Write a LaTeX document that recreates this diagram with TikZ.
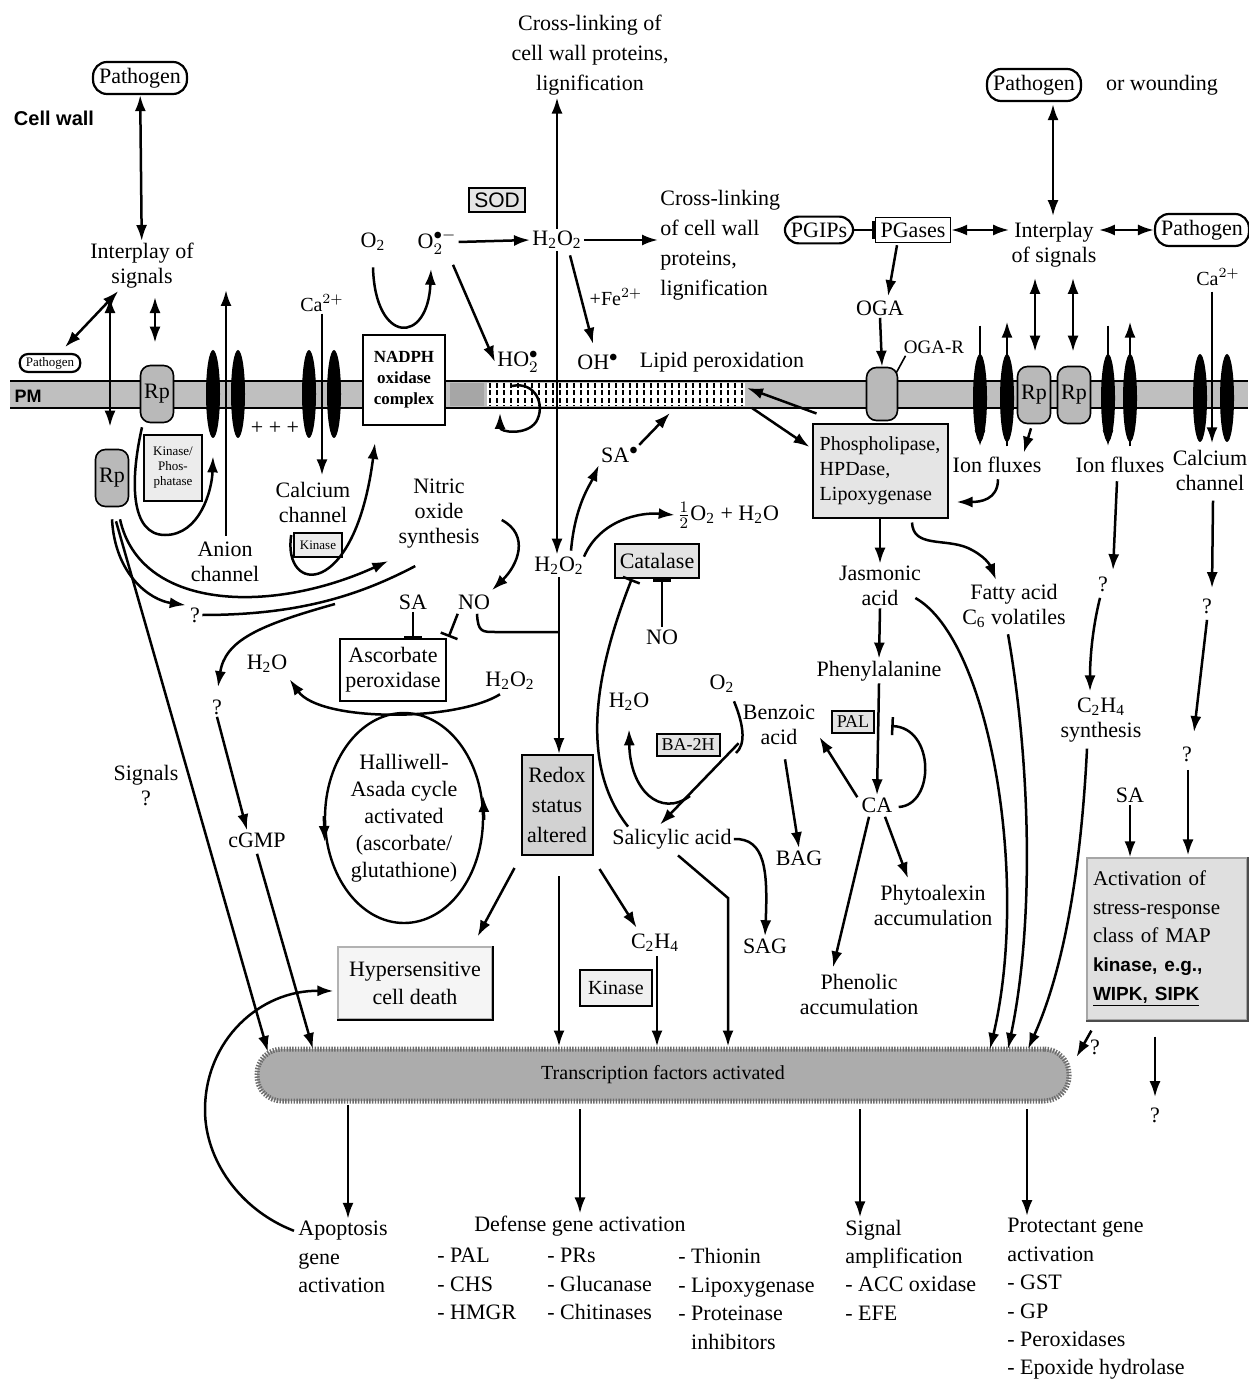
\documentclass[tikz,border=0pt]{standalone}
\usepackage{fontspec}
\setmainfont{Liberation Serif}
\setsansfont{Liberation Sans}
\usetikzlibrary{arrows.meta,shapes.geometric,calc}
\newcommand{\chHHOO}{H\textsubscript{2}O\textsubscript{2}}
\newcommand{\chHHO}{H\textsubscript{2}O}
\newcommand{\chOO}{O\textsubscript{2}}
\begin{document}
\begin{tikzpicture}[x=0.5pt,y=-0.5pt,
  every node/.style={font=\fontsize{11}{12.5}\selectfont, inner sep=1pt, align=center},
  ln/.style={line width=1.25pt},
  ar/.style={ln, -{Latex[length=8pt,width=5.5pt]}},
  dar/.style={ln, {Latex[length=8pt,width=5.5pt]}-{Latex[length=8pt,width=5.5pt]}},
  inh/.style={ln, -{Bar[width=9pt]}},
  pbox/.style={draw, line width=1.1pt, rounded corners=7pt, inner xsep=3pt, inner ysep=3pt},
  gbox/.style={draw, fill=gray!22, line width=1pt, inner sep=2.5pt},
  wbox/.style={draw, fill=white, line width=1pt, inner sep=2.5pt},
  rp/.style={draw, fill=gray!55, rounded corners=5pt, minimum width=16.5pt, minimum height=28.5pt, line width=0.8pt, inner sep=0pt},
  chan/.style={fill=black, ellipse, minimum width=7pt, minimum height=44pt, inner sep=0pt},
  small/.style={font=\fontsize{6.5}{7.5}\selectfont},
  lst/.style={font=\fontsize{11}{14.2}\selectfont, align=left, anchor=west},
]
\useasboundingbox (0,0) rectangle (1248,1384);

% ---------------- plasma membrane
\fill[gray!50] (10,381) rectangle (1248,408);
\draw[line width=1.2pt] (10,381) -- (1248,381) (10,408) -- (1248,408);
\fill[white] (487,383) rectangle (745,406);
\foreach \x in {490,497,...,742} \draw[line width=1.3pt, dash pattern=on 2.5pt off 1.2pt] (\x,383) -- (\x,406);
\fill[gray!70] (450,383) rectangle (484,406);

% ---------------- top left nodes
\node[pbox] (pathA) at (140,78) {Pathogen};
\node[font=\sffamily\bfseries\fontsize{10}{12}\selectfont] (cellwall) at (54,118) {Cell wall};
\node (intA) at (142,266) {Interplay of\\signals};
\node[pbox, small, rounded corners=4pt, inner ysep=1.5pt] (pathS) at (50,363) {Pathogen};
\node[font=\sffamily\bfseries\fontsize{9}{10}\selectfont] (pm) at (28,396) {PM};
\node[rp] (rp1) at (157,394) {Rp};
\node[rp] (rp2) at (112,478) {Rp};
\node[gbox, small, fill=gray!15, line width=0.8pt, inner sep=1.5pt, minimum width=29pt, minimum height=33pt] (kp) at (173,468) {Kinase/\\Phos-\\phatase};
\node[chan] (an1) at (213,394) {};
\node[chan] (an2) at (238,394) {};
\node (plus) at (275,428) {+ + +};
\node (anion) at (225,562) {Anion\\channel};
\node[chan] (cc1) at (309,394) {};
\node[chan] (cc2) at (334,394) {};
\node[font=\fontsize{10}{12}\selectfont] (caA) at (322,303) {Ca$^{2+}$};
\node (calch) at (313,502) {Calcium\\channel};
\node[gbox, small, fill=gray!15, line width=0.8pt, inner sep=1.5pt, minimum width=24pt, minimum height=12pt] (kin1) at (318,545) {Kinase};
\node[wbox, font=\bfseries\fontsize{8.5}{10.5}\selectfont, minimum width=41pt, minimum height=45pt] (nadph) at (404,380) {NADPH\\oxidase\\complex};
\node (nos) at (439,514) {Nitric\\oxide\\synthesis};
\node (q1) at (195,615) {?};
\node (saL) at (413,602) {SA};
\node (noL) at (474,602) {NO};
\node[wbox, minimum width=51pt, minimum height=31pt] (apx) at (393,670) {Ascorbate\\peroxidase};
\node (h2oL) at (267,664) {\chHHO};
\node (h2o2L) at (510,681) {\chHHOO};
\node[draw, ellipse, line width=1.2pt, minimum width=79pt, minimum height=105pt, inner sep=0pt, font=\fontsize{11}{13.5}\selectfont] (hac) at (404,818) {Halliwell-\\Asada cycle\\activated\\(ascorbate/\\glutathione)};
\node (q2) at (217,707) {?};
\node (cgmp) at (257,840) {cGMP};
\node (signals) at (146,786) {Signals\\?};
\node[draw=gray!60, fill=gray!8, line width=0.6pt, minimum width=77pt, minimum height=36pt, font=\fontsize{11}{14}\selectfont] (hcd) at (415,983) {Hypersensitive\\cell death};
\draw[line width=1.1pt] (hcd.north east) -- (hcd.south east) -- (hcd.south west);

% ---------------- centre nodes
\node[font=\fontsize{11}{15}\selectfont] (cross1) at (590,55) {Cross-linking of\\cell wall proteins,\\lignification};
\node[gbox, font=\sffamily\fontsize{10.5}{12}\selectfont, fill=gray!20] (sod) at (497,200) {SOD};
\node (o2a) at (373,242) {\chOO};
\node (o2r) at (437,242) {O$_2^{\bullet-}$};
\node (h2o2a) at (557,240) {\chHHOO};
\node[anchor=west, align=left, font=\fontsize{11}{15}\selectfont] (cross2) at (658,245) {Cross-linking\\of cell wall\\proteins,\\lignification};
\node[font=\fontsize{10}{12}\selectfont] (fe) at (616,297) {+Fe$^{2+}$};
\node (ho2) at (518,362) {HO$_2^{\bullet}$};
\node (oh) at (598,362) {OH$^\bullet$};
\node (lipid) at (722,362) {Lipid peroxidation};
\node (sar) at (620,455) {SA$^\bullet$};
\node (h2o2b) at (559,566) {\chHHOO};
\node (half) at (728,515) {$\frac{1}{2}$\chOO{} + \chHHO};
\node[gbox, minimum width=42pt, minimum height=17pt] (cat) at (657,561) {Catalase};
\node (noC) at (662,637) {NO};
\node[gbox, fill=gray!35, minimum width=35.5pt, minimum height=50pt, font=\fontsize{11}{15}\selectfont] (redox) at (557,805) {Redox\\status\\altered};
\node (h2oC) at (629,702) {\chHHO};
\node (o2C) at (722,684) {\chOO};
\node[gbox, font=\fontsize{9}{10}\selectfont] (ba2h) at (688,745) {BA-2H};
\node (benz) at (779,725) {Benzoic\\acid};
\node (salic) at (672,839) {Salicylic acid};
\node (bag) at (799,858) {BAG};
\node (sag) at (765,946) {SAG};
\node (c2h4) at (655,943) {C\textsubscript{2}H\textsubscript{4}};
\node[gbox, fill=gray!12, font=\fontsize{10}{12}\selectfont, minimum width=36pt, minimum height=18pt] (kin2) at (616,988) {Kinase};

% ---------------- right nodes
\node[pbox] (pathR) at (1034,85) {Pathogen};
\node (wound) at (1162,85) {or wounding};
\node[pbox] (pgip) at (819,230) {PGIPs};
\node[wbox, line width=0.8pt] (pgase) at (913,230) {PGases};
\node (intR) at (1054,245) {Interplay\\of signals};
\node[pbox] (pathR2) at (1202,230) {Pathogen};
\node (oga) at (880,308) {OGA};
\node[font=\fontsize{9.5}{11}\selectfont] (ogar) at (934,347) {OGA-R};
\node[rp, minimum width=15.5pt, minimum height=26.5pt] (ogarec) at (882,394) {};
\node[chan] (i1) at (980,398) {};
\node[chan] (i2) at (1007,398) {};
\node[rp] (rp3) at (1034,395) {Rp};
\node[rp] (rp4) at (1074,395) {Rp};
\node[chan] (i3) at (1108,398) {};
\node[chan] (i4) at (1130,398) {};
\node[chan] (c3) at (1200,398) {};
\node[chan] (c4) at (1227,398) {};
\node[font=\fontsize{10}{12}\selectfont] (caB) at (1218,277) {Ca$^{2+}$};
\node (ion1) at (997,465) {Ion fluxes};
\node (ion2) at (1120,465) {Ion fluxes};
\node (calch2) at (1210,470) {Calcium\\channel};
\node[gbox, align=left, font=\fontsize{10}{12.5}\selectfont, minimum width=67.5pt, minimum height=46.5pt, fill=gray!20] (phos) at (880,471) {Phospholipase,\\HPDase,\\Lipoxygenase};
\node (jas) at (880,586) {Jasmonic\\acid};
\node (fatty) at (1014,606) {Fatty acid\\C\textsubscript{6} volatiles};
\node (phe) at (879,671) {Phenylalanine};
\node[gbox, font=\fontsize{9}{10}\selectfont] (pal) at (853,722) {PAL};
\node (ca) at (877,805) {CA};
\node (phyto) at (933,905) {Phytoalexin\\accumulation};
\node (phenol) at (859,994) {Phenolic\\accumulation};
\node (q3) at (1103,584) {?};
\node (c2h4s) at (1101,720) {C\textsubscript{2}H\textsubscript{4}\\synthesis};
\node (q4) at (1207,606) {?};
\node (q5) at (1187,754) {?};
\node (saR) at (1130,795) {SA};
\node[draw=gray!70, fill=gray!25, line width=0.6pt, minimum width=80pt, minimum height=81pt, text width=74pt, align=left, font=\fontsize{10.5}{14.3}\selectfont] (mapk) at (1167,939) {Activation of\\stress-response\\class of MAP\\{\sffamily\bfseries\fontsize{9.5}{14.3}\selectfont kinase, e.g.,}\\{\sffamily\bfseries\fontsize{9.5}{14.3}\selectfont \underline{WIPK, SIPK}}};
\draw[line width=1.1pt, gray!60!black] (mapk.north east) -- (mapk.south east) -- (mapk.south west);
\node (q6) at (1095,1047) {?};
\node (q7) at (1155,1115) {?};

% ---------------- transcription factors bar
\node[fill=gray!65, draw=gray!85!black, line width=2.5pt, dash pattern=on 0.7pt off 0.7pt, rounded corners=12.5pt, minimum width=406pt, minimum height=26pt, font=\fontsize{10}{12}\selectfont] (tf) at (663,1075) {Transcription factors activated};

% ---------------- bottom texts
\node[lst] (apop) at (296,1257) {Apoptosis\\gene\\activation};
\node (defg) at (580,1226) {Defense gene activation};
\node[lst] (d1) at (435,1284) {- PAL\\- CHS\\- HMGR};
\node[lst] (d2) at (545,1284) {- PRs\\- Glucanase\\- Chitinases};
\node[lst] (d3) at (676,1299) {- Thionin\\- Lipoxygenase\\- Proteinase\\\phantom{- }inhibitors};
\node[lst] (sig) at (843,1270) {Signal\\amplification\\- ACC oxidase\\- EFE};
\node[lst] (prot) at (1005,1299) {Protectant gene\\activation\\- GST\\- GP\\- Peroxidases\\- Epoxide hydrolase};

% ---------------- named free ends
\coordinate (anTop) at (226,290);
\coordinate (lpA) at (670,413);
\coordinate (lpB) at (747,388);
\coordinate (lpC) at (752,408);
\coordinate (tfL) at (268,1052);
\coordinate (tfL2) at (313,1049);
\coordinate (tfR1) at (990,1049);
\coordinate (tfR2) at (1008,1049);
\coordinate (tfR3) at (1028,1049);
\coordinate (sbend) at (728,898);
\coordinate (jn) at (558,632);
\coordinate (kkmid) at (335,604);
\coordinate (bzs) at (736,753);
\coordinate (bzh) at (690,796);
\coordinate (bA) at (348,1105);
\coordinate (bB) at (580,1109);
\coordinate (bC) at (860,1109);
\coordinate (bD) at (1027,1109);

% ---------------- left connectors
\draw[dar] (pathA) -- (intA);
\draw[dar, shorten >=4pt] (intA) -- (pathS);
\draw[dar] ($(intA.south)+(-32,6)$) -- ($(rp2.north)+(-2,-22)$);
\draw[dar] ($(intA.south)+(13,6)$) -- ($(rp1.north)+(-2,-22)$);
\draw[ar] ($(rp1.south)+(-15,4)$) .. controls (130,480) and (130,535) .. (165,535) .. controls (200,535) and (212,490) .. ($(an1.south)+(0,18)$);
\draw[ar] ($(anion.north)+(1,-4)$) -- (anTop);
\draw[ar] (caA.south) -- ($(calch.north)+(9,-4)$);
\draw[ar] ($(kin1.west)+(-2,-10)$) .. controls (282,595) and (355,600) .. ($(nadph.south)+(-29,17)$);
\draw[ar] ($(rp2.south)+(0,12)$) .. controls (115,575) and (150,600) .. ($(q1.north west)+(-2,0)$);
\draw[ar] ($(rp2.south)+(8,12)$) .. controls (140,610) and (270,615) .. ($(nos.south west)+(-8,10)$);
\draw[ar] ($(rp2.south)+(4,14)$) -- (tfL);
\draw[ln] ($(nos.south west)+(19,15)$) .. controls (360,595) and (300,615) .. (q1.east);
\draw[ar] (kkmid) .. controls (260,625) and (225,640) .. ($(q2.north)+(1,-10)$);
\draw[ar] (q2.south) -- ($(cgmp.north)+(-10,0)$);
\draw[ar] ($(cgmp.south)+(0,4)$) -- (tfL2);
\draw[inh] (saL.south) -- (saL.south |- apx.north);
\draw[inh] ($(noL.south west)+(2,2)$) -- ($(apx.north east)+(2,-1)$);
\draw[ln] ($(noL.south)+(3,2)$) .. controls (478,632) and (482,632) .. (495,632) -- (jn);
\draw[ar] ($(nos.east)+(20,6)$) .. controls (530,535) and (518,565) .. ($(noL.north)+(18,-2)$);
\draw[ar] ($(h2o2L.south)+(-10,2)$) .. controls (455,722) and (320,722) .. ($(h2oL.south east)+(0,4)$);
\draw[ar] ($(hac.east)+(0,2)$) -- ($(hac.east)+(-1,-22)$);
\draw[ar] ($(hac.west)+(0,-2)$) -- ($(hac.west)+(1,24)$);
\draw[ar] ($(apop.north west)+(-2,12)$) .. controls (240,1210) and (205,1160) .. (205,1110) .. controls (205,1040) and (260,990) .. ($(hcd.west)+(-4,8)$);

% ---------------- centre connectors
\draw[ar] ($(o2a.south)+(0,14)$) .. controls (375,345) and (428,345) .. ($(o2r.south)+(-6,12)$);
\draw[ar] (o2r.east) -- (h2o2a.west);
\draw[ar] (h2o2a.east) -- (h2o2a.east -| cross2.west);
\draw[ar] (h2o2a.north) -- (h2o2a.north |- cross1.south);
\draw[ar] ($(o2r.south)+(16,8)$) -- (ho2.west);
\draw[ar] ($(h2o2a.south)+(13,4)$) -- ($(oh.north)+(-5,-8)$);
\draw[ar] (h2o2a.south) -- (h2o2a.south |- h2o2b.north);
\draw[ar] (512,386) .. controls (536,381) and (546,406) .. (536,422) .. controls (526,436) and (500,432) .. (500,413);
\draw[ar] ($(h2o2b.north)+(12,-4)$) .. controls (575,505) and (590,485) .. (sar.south west);
\draw[ar] ($(sar.north east)+(-2,0)$) -- (lpA);
\draw[ar] ($(phos.north west)+(5,-10)$) -- (lpB);
\draw[ar] (lpC) -- ($(phos.west)+(-2,-24)$);
\draw[ar] (h2o2b.south) -- (h2o2b.south |- redox.north);
\draw[ar] ($(h2o2b.north east)+(-2,2)$) .. controls (600,520) and (640,512) .. (half.west);
\draw[inh] (noC.north) -- (noC.north |- cat.south);
\draw[inh] ($(salic.north west)+(18,0)$) .. controls (575,760) and (600,660) .. ($(cat.south west)+(18,0)$);
\draw[ar] ($(benz.south west)+(-2,-4)$) -- ($(salic.north)+(-12,-2)$);
\draw[ln] ($(o2C.south)+(12,6)$) .. controls (745,728) and (745,745) .. (bzs);
\draw[ar] (bzh) .. controls (660,818) and (630,790) .. ($(h2oC.south)+(0,16)$);
\draw[ar] ($(ca.north west)+(-2,2)$) -- ($(benz.east)+(2,12)$);
\draw[ar] ($(benz.south)+(6,12)$) -- (bag.north);
\draw[ar] (salic.east) .. controls (765,838) and (768,870) .. (sag.north);
\draw[ar] ($(salic.south)+(6,4)$) -- (sbend) -- (sbend |- tf.north);
\draw[ar] ($(redox.south west)+(-6,12)$) -- ($(hcd.north east)+(-15,-10)$);
\coordinate (rd) at ($(redox.south)+(2,20)$);
\draw[ar] (rd) -- (rd |- tf.north);
\draw[ar] ($(redox.south east)+(6,13)$) -- ($(c2h4.north west)+(8,-4)$);
\coordinate (c2b) at ($(c2h4.south)+(2,2)$);
\draw[ar] (c2b) -- (c2b |- tf.north);

% ---------------- right connectors
\draw[dar] ($(pathR.south)+(19,2)$) -- ($(intR.north)+(-1,-4)$);
\draw[inh] (pgip.east) -- (pgase.west);
\draw[dar] (pgase.east) -- (pgase.east -| intR.west);
\draw[dar] (intR.east |- pathR2.west) -- (pathR2.west);
\draw[ar] ($(pgase.south)+(-16,2)$) -- ($(oga.north)+(8,-2)$);
\draw[ar] (oga.south) -- (ogarec.north);
\draw[line width=0.8pt] ($(ogar.south west)+(4,0)$) -- ($(ogarec.north east)+(-2,6)$);
\draw[ar] ($(i1.north)+(0,-28)$) -- ($(i1.south)+(0,4)$);
\draw[ar] ($(i2.south)+(0,4)$) -- ($(i2.north)+(0,-32)$);
\draw[ar] ($(i3.north)+(0,-28)$) -- ($(i3.south)+(0,4)$);
\draw[ar] ($(i4.south)+(0,4)$) -- ($(i4.north)+(0,-32)$);
\draw[dar] ($(intR.south)+(-19,8)$) -- ($(rp3.north)+(1,-14)$);
\draw[dar] ($(intR.south)+(19,8)$) -- ($(rp4.north)+(-1,-14)$);
\draw[ar] ($(rp3.south)+(-3,4)$) -- ($(ion1.north east)+(-20,-2)$);
\draw[ar] ($(ion1.south)+(1,4)$) .. controls (998,500) and (980,502) .. ($(phos.east)+(8,31)$);
\draw[ar] ($(caB.south)+(-6,4)$) -- ($(calch2.north)+(2,-4)$);
\draw[ar] (phos.south) -- (jas.north);
\draw[ar] ($(phos.south)+(32,4)$) .. controls (913,548) and (945,538) .. (968,548) .. controls (985,556) and (990,565) .. ($(fatty.north)+(-18,-2)$);
\draw[ar] (jas.south) -- (phe.north);
\draw[ar] (phe.south) -- (ca.north);
\draw[inh] ($(ca.east)+(4,2)$) .. controls (935,805) and (935,728) .. ($(pal.east)+(16,4)$);
\draw[ar] ($(ca.south)+(8,2)$) -- ($(phyto.north)+(-25,-4)$);
\draw[ar] ($(ca.south)+(-8,2)$) -- ($(phenol.north)+(-26,-4)$);
\draw[ar] ($(jas.east)+(-8,12)$) .. controls (990,640) and (1030,880) .. (tfR1);
\draw[ar] ($(fatty.south)+(-6,4)$) .. controls (1030,760) and (1035,920) .. (tfR2);
\draw[ar] ($(c2h4s.south)+(-14,4)$) .. controls (1082,850) and (1068,960) .. (tfR3);
\draw[ar] ($(ion2.south)+(-3,6)$) -- ($(q3.north)+(10,-4)$);
\draw[ar] ($(q3.south)+(-3,4)$) .. controls (1092,630) and (1090,660) .. ($(c2h4s.north)+(-11,-4)$);
\draw[ar] ($(calch2.south)+(3,8)$) -- ($(q4.north)+(5,-8)$);
\draw[ar] ($(q4.south)+(0,4)$) -- ($(q5.north)+(7,-12)$);
\coordinate (q5m) at (q5.south |- mapk.north);
\draw[ar] ($(q5.south)+(1,6)$) -- ($(q5m)+(1,-2)$);
\draw[ar] (saR.south) -- (saR.south |- mapk.north);
\draw[ar] ($(mapk.south west)+(5,10)$) -- ($(tf.east)+(5,-18)$);
\draw[ar] ($(mapk.south)+(-12,16)$) -- ($(q7.north)+(0,-8)$);

% ---------------- bottom outputs
\draw[ar] (bA) -- (bA |- apop.north);
\draw[ar] (bB) -- (defg.north);
\draw[ar] (bC) -- (bC |- sig.north);
\draw[ar] (bD) -- (bD |- prot.north);
\end{tikzpicture}
\end{document}
